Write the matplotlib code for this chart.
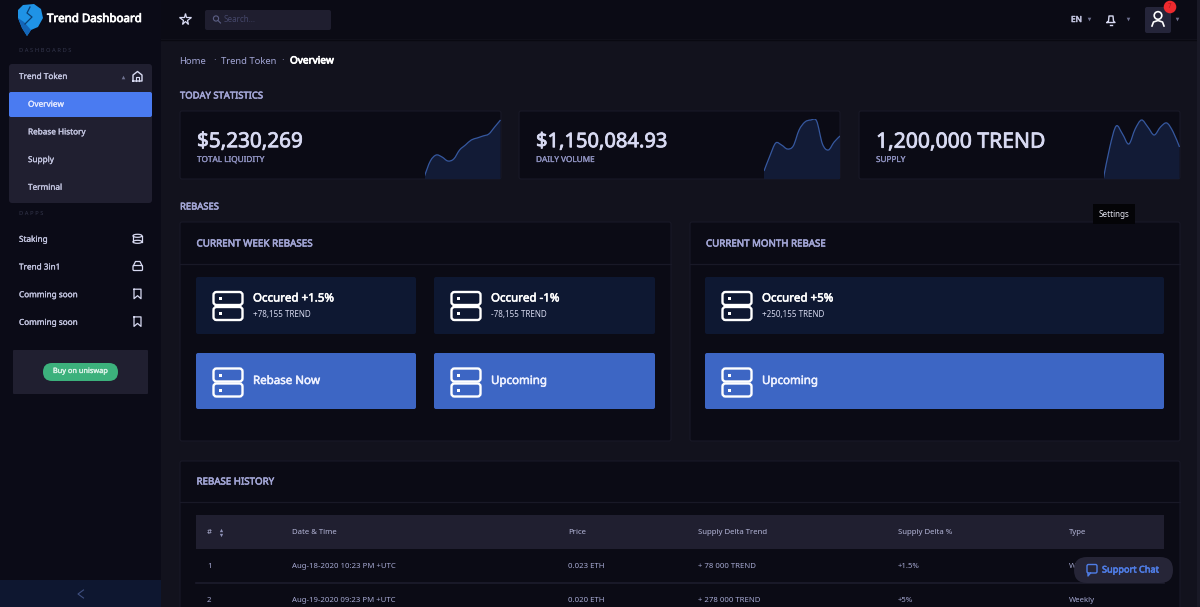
import matplotlib
matplotlib.use("Agg")
import matplotlib.pyplot as plt
import matplotlib.patheffects as pe
from matplotlib.path import Path
from matplotlib.patches import FancyBboxPatch, Rectangle, Circle, Polygon, Ellipse, PathPatch

plt.rcParams['font.family'] = ['Noto Sans', 'DejaVu Sans']

# --- data -------------------------------------------------------------
stat_values = ["$5,230,269", "$1,150,084.93", "1,200,000 TREND"]
stat_labels = ["TOTAL LIQUIDITY", "DAILY VOLUME", "SUPPLY"]
spark_liquidity = [3, 18, 24, 22, 18, 20, 29, 34, 39, 41, 43, 45, 52, 59]
spark_volume = [8, 23, 36, 34, 30, 33, 49, 57, 59, 58, 35, 29, 37, 43]
spark_supply = [1, 32, 53, 45, 35, 50, 59, 52, 44, 52, 56, 47, 32]

menu_main = ["Overview", "Rebase History", "Supply", "Terminal"]
menu_dapps = ["Staking", "Trend 3in1", "Comming soon", "Comming soon"]
breadcrumb = ["Home", "Trend Token", "Overview"]

table_columns = ["#", "Date & Time", "Price", "Supply Delta Trend", "Supply Delta %", "Type"]
row_ids = ["1", "2"]
row_dates = ["Aug-18-2020 10:23 PM +UTC", "Aug-19-2020 09:23 PM +UTC"]
row_prices = ["0.023 ETH", "0.020 ETH"]
row_trend = ["+ 78 000 TREND", "+ 278 000 TREND"]
row_pct = ["+1.5%", "+5%"]
row_type = ["Weekly", "Weekly"]

# --- palette ----------------------------------------------------------
BG = "#12121d"; SIDE = "#0b0b17"; CARD = "#0b0b15"; PANEL = "#201f30"
EDGE = "#191927"; BLUE = "#4a7bf1"; BTN = "#3d66c4"; DARKBTN = "#0e1832"
LAV = "#a3a6d6"; TXT = "#c3c5e0"; PALE = "#d8daf2"; WHITE = "#ffffff"
STROKE = {"bold": 0.55, "semibold": 0.4, "medium": 0.2}

W, H = 1200, 607
fig = plt.figure(figsize=(W / 100, H / 100), dpi=100, facecolor=BG)
ax = fig.add_axes([0, 0, 1, 1])
ax.set_xlim(0, W); ax.set_ylim(H, 0); ax.axis("off")


def box(x0, y0, x1, y1, color, r=0, edge="none", lw=0, z=1):
    if r:
        p = FancyBboxPatch((x0 + r, y0 + r), x1 - x0 - 2 * r, y1 - y0 - 2 * r,
                           boxstyle=f"round,pad={r},rounding_size={r}",
                           fc=color, ec=edge, lw=lw, zorder=z)
    else:
        p = Rectangle((x0, y0), x1 - x0, y1 - y0, fc=color, ec=edge, lw=lw, zorder=z)
    ax.add_patch(p)
    return p


def txt(x, y, s, size=7, color=TXT, weight="normal", ha="left", z=5):
    t = ax.text(x, y + 1, s, fontsize=size, color=color, ha=ha, va="center", zorder=z)
    if weight in STROKE:
        t.set_path_effects([pe.withStroke(linewidth=STROKE[weight], foreground=color)])
    return t


def server(x, y, dot=WHITE, w=29):
    for dy in (0, 15):
        box(x + 0.5, y + dy, x + 0.5 + w, y + dy + 13, "none", r=3, edge=WHITE, lw=1.7, z=4)
        ax.add_patch(Rectangle((x + 5.5, y + dy + 5), 3, 3, fc=dot, ec="none", zorder=5))


def caret(x, y, color="#6f7190", up=False):
    ax.plot([x], [y], marker="^" if up else "v", ms=2.6, color=color, mec="none", zorder=5)


def smooth_path(xs, ys):
    verts = [(xs[0], ys[0])]
    codes = [Path.MOVETO]
    n = len(xs)
    for i in range(n - 1):
        a = max(i - 1, 0); b = min(i + 2, n - 1)
        c1 = (xs[i] + (xs[i + 1] - xs[a]) / 6, ys[i] + (ys[i + 1] - ys[a]) / 6)
        c2 = (xs[i + 1] - (xs[b] - xs[i]) / 6, ys[i + 1] - (ys[b] - ys[i]) / 6)
        verts += [c1, c2, (xs[i + 1], ys[i + 1])]
        codes += [Path.CURVE4] * 3
    return verts, codes


# --- frame: sidebar and top bar ----------------------------------------
box(0, 0, 161, H, SIDE)
box(161, 0, W, 39, "#0b0b15")
ax.plot([161, W], [39.5, 39.5], color="#090911", lw=1, zorder=2)
box(0, 580, 161, H, "#0e1730", z=2)
ax.plot([83.5, 78, 83.5], [590, 594, 598], color="#3f4f80", lw=0.8, zorder=5)
box(1197, 0, W, H, "#191926", z=6)

# logo
ax.add_patch(Polygon([(23, 5), (34, 4), (41, 9), (43, 18), (38, 27), (31, 30), (27, 36),
                      (22, 28), (18, 18), (18, 10)], closed=True, fc="#1f93e6", ec="none", zorder=3))
ax.add_patch(Polygon([(18, 18), (24, 22), (31, 30), (27, 36), (22, 28)], closed=True,
                     fc="#1466b8", ec="none", zorder=4))
ax.plot([30, 27, 32, 25], [7, 13, 17, 24], color="#0b3f73", lw=0.9, zorder=5)
txt(47, 18.5, "Trend Dashboard", 8.3, WHITE, "bold")

# sidebar
txt(19, 50, "D A S H B O A R D S", 4.2, "#34364c")
box(9, 64, 152, 203, PANEL, r=3)
txt(19, 75.5, "Trend Token", 5.9, TXT, "medium")
caret(123, 77, up=True)
box(9, 92, 152, 117, BLUE, r=2, z=2)
for i, m in enumerate(menu_main):
    txt(28, 103.2 + i * 27.7, m, 5.9, "#e4e9ff" if i == 0 else TXT, "medium")
# home icon
ax.plot([133, 133, 137.5, 142, 142, 133], [81, 75, 71.5, 75, 81, 81], color=PALE, lw=1, zorder=5)
ax.plot([136, 136, 139, 139], [81, 77, 77, 81], color=PALE, lw=0.8, zorder=5)

txt(19, 212.5, "D A P P S", 4.2, "#34364c")
for i, m in enumerate(menu_dapps):
    y = 238.8 + i * 27.7
    txt(19, y - 0.5, m, 5.9, TXT, "medium")
    if i == 0:
        ax.add_patch(Ellipse((137.5, y - 3), 9, 3, fc="none", ec=PALE, lw=0.9, zorder=5))
        ax.plot([133, 133], [y - 3, y + 3], color=PALE, lw=0.9, zorder=5)
        ax.plot([142, 142], [y - 3, y + 3], color=PALE, lw=0.9, zorder=5)
        ax.add_patch(Ellipse((137.5, y + 3), 9, 3, fc="none", ec=PALE, lw=0.9, zorder=5))
    elif i == 1:
        box(133, y - 1, 142.5, y + 4, "none", r=1, edge=PALE, lw=0.9, z=5)
        ax.plot([133.5, 135.5, 140, 142], [y - 1, y - 5, y - 5, y - 1], color=PALE, lw=0.9, zorder=5)
    else:
        ax.plot([134, 134, 137.5, 141, 141, 134], [y - 5, y + 4.5, y + 1.5, y + 4.5, y - 5, y - 5],
                color=PALE, lw=0.9, zorder=5)

box(13, 350, 148, 394, PANEL, r=1)
box(43, 363, 118, 381, "#3cb17c", r=9, z=3)
txt(80.5, 370.5, "Buy on uniswap", 5.3, "#dff3ea", "medium", ha="center")

# top bar
ax.plot([185], [19], marker="*", ms=8.5, mfc="none", mec=PALE, mew=0.9, zorder=5)
box(205, 10, 331, 30, "#1f1e2f", r=2, z=3)
ax.add_patch(Circle((216, 18.5), 2.6, fc="none", ec="#5c5f85", lw=0.8, zorder=5))
ax.plot([218, 220.5], [20.5, 23], color="#5c5f85", lw=0.8, zorder=5)
txt(224, 18.5, "Search...", 5.8, "#45476a")
txt(1071, 18.5, "EN", 6, TXT, "semibold")
caret(1089, 19)
ax.plot([1107, 1108.5, 1109, 1113, 1113.5, 1115, 1107], [22.5, 21, 16, 16, 21, 22.5, 22.5],
        color=PALE, lw=1, zorder=5)
ax.plot([1110, 1112], [24.5, 24.5], color=PALE, lw=1, zorder=5)
caret(1128, 19)
box(1145, 7, 1171, 33, "#25253a", r=2, z=3)
ax.add_patch(Circle((1158, 15.5), 3.8, fc="none", ec=WHITE, lw=1.2, zorder=5))
ax.plot([1152, 1153.5, 1158, 1162.5, 1164], [26, 22, 20.5, 22, 26], color=WHITE, lw=1.2, zorder=5)
ax.add_patch(Circle((1170, 7), 6.3, fc="#ee2a2e", ec="none", zorder=6))
txt(1170, 6, "7", 4.5, "#a81a1e", ha="center", z=7)
caret(1177, 19)

# breadcrumb
txt(179.5, 60, breadcrumb[0], 6.8, LAV)
txt(213, 59.5, "·", 7, LAV)
txt(221, 60, breadcrumb[1], 6.8, LAV)
txt(281, 59.5, "·", 7, LAV)
txt(290, 60, breadcrumb[2], 7.2, WHITE, "bold")

txt(180, 95, "TODAY STATISTICS", 6.8, LAV, "semibold")
txt(180, 206, "REBASES", 6.8, LAV, "semibold")

# stat cards
stat_boxes = [(180, 501), (519, 840), (859, 1180)]
stat_series = [spark_liquidity, spark_volume, spark_supply]
stat_sizes = [14.9, 14.5, 15.2]
spark_spans = [(424.5, 500.5), (764, 840), (1103.5, 1179.5)]
for (x0, x1), v, l, s, size, (sx0, sx1) in zip(stat_boxes, stat_values, stat_labels, stat_series,
                                                stat_sizes, spark_spans):
    box(x0, 111, x1, 179, CARD, r=2, edge=EDGE, lw=0.8)
    txt(x0 + 17, 141.2, v, size, PALE, "bold")
    txt(x0 + 17, 158.5, l, 5.9, "#8f92c0", "medium")
    sa = fig.add_axes([sx0 / W, 1 - 179 / H, (sx1 - sx0) / W, 60 / H], zorder=3)
    sa.patch.set_alpha(0)
    sa.axis("off")
    xs = list(range(len(s)))
    verts, codes = smooth_path(xs, s)
    fill_v = verts + [(xs[-1], 0), (xs[0], 0), (xs[0], s[0])]
    fill_c = codes + [Path.LINETO, Path.LINETO, Path.CLOSEPOLY]
    sa.add_patch(PathPatch(Path(fill_v, fill_c), fc="#121b36", ec="none", lw=0))
    sa.add_patch(PathPatch(Path(verts, codes), fc="none", ec="#36589f", lw=0.9))
    sa.set_xlim(0, len(s) - 1); sa.set_ylim(0, 60)

# rebase cards
box(180, 222, 671, 441, CARD, r=2, edge=EDGE, lw=0.8)
box(690, 222, 1180, 441, CARD, r=2, edge=EDGE, lw=0.8)
for x0, x1 in [(180, 671), (690, 1180)]:
    ax.plot([x0, x1], [264, 264], color=EDGE, lw=0.9, zorder=2)
txt(196.5, 243, "CURRENT WEEK REBASES", 7.1, LAV, "semibold")
txt(706, 243, "CURRENT MONTH REBASE", 7.0, LAV, "semibold")


def tile(x0, x1, y0, y1, color, title, sub=None):
    box(x0, y0, x1, y1, color, r=2, z=2)
    server(x0 + 17, y0 + (15 if sub else 15.5))
    if sub:
        txt(x0 + 57, y0 + 21, title, 8.3, WHITE, "semibold")
        txt(x0 + 57, y0 + 37, sub, 5.8, "#d5d8ee")
    else:
        txt(x0 + 57, y0 + 27.5, title, 8.3, "#eef1ff", "semibold")


tile(196, 416, 277, 334, DARKBTN, "Occured +1.5%", "+78,155 TREND")
tile(434, 655, 277, 334, DARKBTN, "Occured -1%", "-78,155 TREND")
tile(705, 1164, 277, 334, DARKBTN, "Occured +5%", "+250,155 TREND")
tile(196, 416, 353, 409, BTN, "Rebase Now")
tile(434, 655, 353, 409, BTN, "Upcoming")
tile(705, 1164, 353, 409, BTN, "Upcoming")

# tooltip
box(1093, 204, 1135, 224, "#040407", z=4)
txt(1114, 213.5, "Settings", 5.8, "#e5e6f2", ha="center")

# rebase history table
box(180, 461, 1180, 620, CARD, r=2, edge=EDGE, lw=0.8)
ax.plot([180, 1180], [502, 502], color=EDGE, lw=0.9, zorder=2)
txt(196.5, 481, "REBASE HISTORY", 7.0, LAV, "semibold")
box(196, 515, 1164, 549, PANEL, z=2)
col_x = [207, 292, 568, 698, 898, 1069]
for x, c in zip(col_x, table_columns):
    txt(x, 531, c, 5.6, "#b4b6d8")
ax.plot([221], [529.5], marker="^", ms=2.4, color="#8f92b8", mec="none", zorder=5)
ax.plot([221], [534.5], marker="v", ms=2.4, color="#8f92b8", mec="none", zorder=5)
ax.plot([196, 1164], [583, 583], color="#1d1c2c", lw=1.2, zorder=2)
for i, y in enumerate([565, 599]):
    for x, c in zip(col_x, [row_ids[i], row_dates[i], row_prices[i], row_trend[i], row_pct[i], row_type[i]]):
        txt(x, y, c, 5.6, "#a6a9d2")

# support chat pill
box(1074, 557, 1173, 583, "#262537", r=13, z=7)
box(1087, 564.5, 1097, 573, "none", r=1.5, edge="#4f7de6", lw=1, z=8)
ax.plot([1088, 1088, 1090.5], [573, 576, 573], color="#4f7de6", lw=1, zorder=8)
txt(1102, 569, "Support Chat", 6.6, "#4f7de6", "semibold", z=8)

fig.savefig("out.png", dpi=100, facecolor=BG)
